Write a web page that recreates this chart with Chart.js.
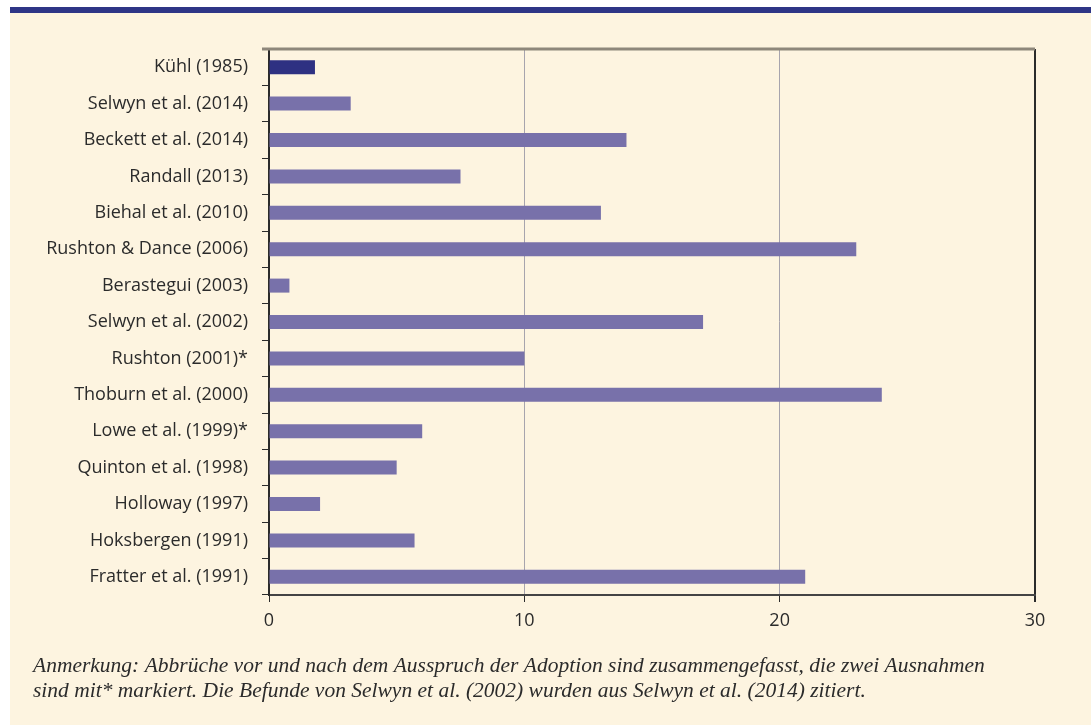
<!DOCTYPE html>
<html>
<head>
<meta charset="utf-8">
<script src="https://cdn.jsdelivr.net/npm/chart.js@4"></script>
<style>
  body { margin: 0; background: #fff; }
  #wrap { width: 1091px; height: 725px; }
</style>
</head>
<body>
<div id="wrap"><canvas id="myChart" width="1091" height="725"></canvas></div>
<script>
const studies = [
    "Kühl (1985)", "Selwyn et al. (2014)", "Beckett et al. (2014)", "Randall (2013)",
    "Biehal et al. (2010)", "Rushton & Dance (2006)", "Berastegui (2003)", "Selwyn et al. (2002)",
    "Rushton (2001)*", "Thoburn et al. (2000)", "Lowe et al. (1999)*", "Quinton et al. (1998)",
    "Holloway (1997)", "Hoksbergen (1991)", "Fratter et al. (1991)"
];
const abbrueche = [1.8, 3.2, 14, 7.5, 13, 23, 0.8, 17, 10, 24, 6, 5, 2, 5.7, 21];
const xTicks = [0, 10, 20, 30];
const noteLines = [
    "Anmerkung: Abbrüche vor und nach dem Ausspruch der Adoption sind zusammengefasst, die zwei Ausnahmen",
    "sind mit* markiert. Die Befunde von Selwyn et al. (2002) wurden aus Selwyn et al. (2014) zitiert."
];

const frame = {
    id: 'frame',
    beforeDraw(chart) {
        const ctx = chart.ctx;
        ctx.save();
        ctx.fillStyle = "#ffffff";
        ctx.fillRect(0, 0, chart.width, chart.height);
        ctx.fillStyle = "#fdf4e0";
        ctx.fillRect(10, 12, chart.width - 10, chart.height - 12);
        ctx.fillStyle = "#2e3586";
        ctx.fillRect(10, 7, chart.width - 10, 6);
        ctx.restore();
    },
    afterDraw(chart) {
        const ctx = chart.ctx;
        const a = chart.chartArea;
        ctx.save();
        ctx.strokeStyle = "#8e877b";
        ctx.lineWidth = 3;
        ctx.beginPath();
        ctx.moveTo(a.left - 7, a.top);
        ctx.lineTo(a.right, a.top);
        ctx.stroke();
        ctx.fillStyle = "#2b2b2b";
        ctx.font = "italic 21.5px 'Liberation Serif'";
        ctx.textBaseline = "alphabetic";
        ctx.fillText(noteLines[0], 33, 672);
        ctx.fillText(noteLines[1], 33, 697);
        ctx.restore();
    }
};

new Chart(document.getElementById('myChart'), {
    type: 'bar',
    data: {
        labels: studies,
        datasets: [{
            data: abbrueche,
            backgroundColor: abbrueche.map((v, i) => i === 0 ? "#2e3182" : "#7871aa"),
            barPercentage: 0.385,
            categoryPercentage: 1
        }]
    },
    options: {
        indexAxis: 'y',
        responsive: false,
        animation: false,
        layout: { padding: { top: 49, right: 56, left: 0, bottom: 0 } },
        plugins: { legend: { display: false }, tooltip: { enabled: false } },
        scales: {
            x: {
                min: 0,
                max: 30,
                afterBuildTicks: axis => { axis.ticks = xTicks.map(v => ({ value: v })); },
                afterFit: axis => { axis.height = 130; },
                border: { color: "#444", width: 2 },
                grid: {
                    color: c => c.tick.value === 30 ? "#2b2b2b" : "#a7a4ad",
                    lineWidth: c => c.tick.value === 30 ? 2 : 1,
                    tickColor: "#2b2b2b",
                    tickLength: 7
                },
                ticks: {
                    color: "#2b2b2b",
                    padding: 8,
                    font: { family: "'Open Sans'", size: 18 }
                }
            },
            y: {
                afterFit: axis => { axis.width = 269; },
                border: { color: "#2b2b2b", width: 2 },
                grid: {
                    drawOnChartArea: false,
                    offset: true,
                    tickColor: "#2b2b2b",
                    tickLength: 7
                },
                ticks: {
                    color: "#2b2b2b",
                    padding: 14,
                    font: { family: "'Open Sans'", size: 18 }
                }
            }
        }
    },
    plugins: [frame]
});
</script>
</body>
</html>
